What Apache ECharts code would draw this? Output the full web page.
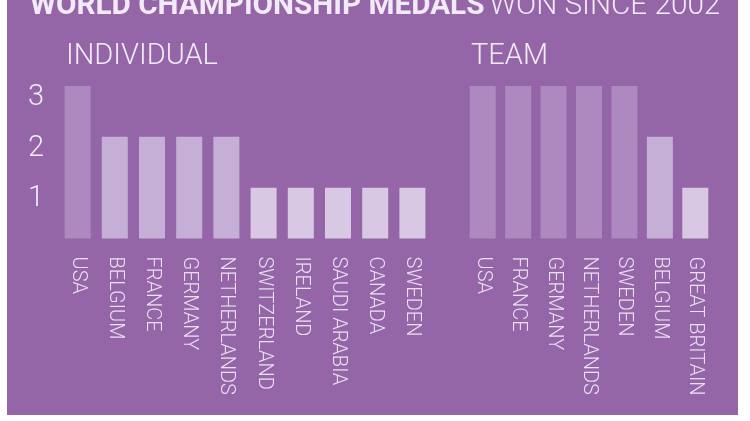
<!DOCTYPE html>
<html>
<head>
<meta charset="utf-8">
<script src="https://cdn.jsdelivr.net/npm/echarts@6/dist/echarts.min.js"></script>
<style>
  html, body { margin: 0; padding: 0; background: #ffffff; }
  #chart { width: 750px; height: 421px; }
</style>
</head>
<body>
<div id="chart"></div>
<script>
// 数据
var indivCountries = ['USA', 'BELGIUM', 'FRANCE', 'GERMANY', 'NETHERLANDS', 'SWITZERLAND', 'IRELAND', 'SAUDI ARABIA', 'CANADA', 'SWEDEN'];
var indivMedals = [3, 2, 2, 2, 2, 1, 1, 1, 1, 1];
var teamCountries = ['USA', 'FRANCE', 'GERMANY', 'NETHERLANDS', 'SWEDEN', 'BELGIUM', 'GREAT BRITAIN'];
var teamMedals = [3, 3, 3, 3, 3, 2, 1];
var yTicks = [1, 2, 3];

var barColors = { 1: '#d8c8e4', 2: '#c6afd6', 3: '#ad89bf' };
var textColor = '#f3eaf7';
var fontName = 'Roboto';

function colorOf(p) {
    return barColors[p.value];
}

function catAxis(idx, names) {
    return {
        type: 'category',
        gridIndex: idx,
        data: names,
        axisLine: { show: false },
        axisTick: { show: false },
        axisLabel: {
            rotate: -90,
            margin: 18,
            interval: 0,
            color: '#ebdff1',
            fontFamily: fontName,
            fontWeight: 300,
            fontSize: 20
        }
    };
}

function valAxis(idx, showLabel) {
    return {
        type: 'value',
        gridIndex: idx,
        min: 0,
        max: 3,
        interval: 1,
        splitLine: { show: false },
        axisLine: { show: false },
        axisTick: { show: false },
        axisLabel: {
            show: showLabel,
            showMinLabel: false,
            margin: 15,
            verticalAlign: 'top',
            lineHeight: 23,
            color: textColor,
            fontFamily: fontName,
            fontWeight: 300,
            fontSize: 29,
            formatter: function (v) { return yTicks.indexOf(v) >= 0 ? String(v) : ''; }
        }
    };
}

var myChart = echarts.init(document.getElementById('chart'));
myChart.setOption({
    backgroundColor: 'transparent',
    animation: false,
    graphic: [{
        type: 'rect',
        z: -100,
        silent: true,
        shape: { x: 7, y: 0, width: 731, height: 415 },
        style: { fill: '#9466a8' }
    }],
    title: [
        {
            left: 30,
            top: -8,
            padding: 0,
            text: '{b|WORLD CHAMPIONSHIP MEDALS} {l|WON SINCE 2002}',
            textStyle: {
                rich: {
                    b: { fontFamily: fontName, fontWeight: 'bold', fontSize: 29.7, color: textColor },
                    l: { fontFamily: fontName, fontWeight: 300, fontSize: 29.7, color: textColor }
                }
            }
        },
        {
            left: 66,
            top: 42,
            padding: 0,
            text: 'INDIVIDUAL',
            textStyle: { fontFamily: fontName, fontWeight: 300, fontSize: 29, color: textColor }
        },
        {
            left: 471,
            top: 42,
            padding: 0,
            text: 'TEAM',
            textStyle: { fontFamily: fontName, fontWeight: 300, fontSize: 29, color: textColor }
        }
    ],
    grid: [
        { left: 59, top: 86, width: 372, height: 152.5 },
        { left: 465, top: 86, width: 248, height: 152.5 }
    ],
    xAxis: [catAxis(0, indivCountries), catAxis(1, teamCountries)],
    yAxis: [valAxis(0, true), valAxis(1, false)],
    series: [
        {
            type: 'bar',
            xAxisIndex: 0,
            yAxisIndex: 0,
            data: indivMedals,
            barWidth: 26,
            itemStyle: { color: colorOf }
        },
        {
            type: 'bar',
            xAxisIndex: 1,
            yAxisIndex: 1,
            data: teamMedals,
            barWidth: 26,
            itemStyle: { color: colorOf }
        }
    ]
});
</script>
</body>
</html>
